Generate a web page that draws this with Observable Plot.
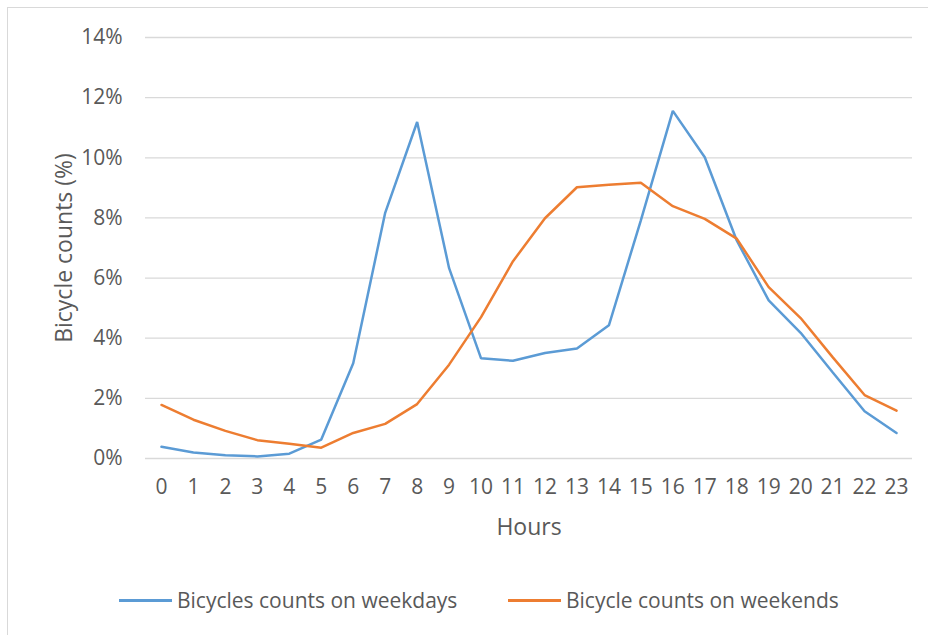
<!DOCTYPE html>
<html>
<head>
<meta charset="utf-8">
<script src="https://cdn.jsdelivr.net/npm/d3@7"></script>
<script src="https://cdn.jsdelivr.net/npm/@observablehq/plot@0.6"></script>
<style>
  html, body { margin: 0; padding: 0; background: #fff; overflow: hidden; }
  #wrap { position: relative; width: 928px; height: 635px; overflow: hidden; font-family: "Open Sans", sans-serif; color: #595959; }
  #frame { position: absolute; left: 7px; top: 7px; width: 960px; height: 660px; border: 1px solid #d9d9d9; box-sizing: border-box; }
  #chart { position: absolute; left: 0; top: 0; }
  .leg { position: absolute; top: 586px; height: 28px; display: flex; align-items: center; font-size: 21px; white-space: nowrap; }
  .leg .sw { width: 53px; height: 3px; margin-right: 5px; }
</style>
</head>
<body>
<div id="wrap">
  <div id="frame"></div>
  <div id="chart"></div>
  <div class="leg" style="left:119px"><span class="sw" style="background:#5B9BD5"></span><span>Bicycles counts on weekdays</span></div>
  <div class="leg" style="left:508px"><span class="sw" style="background:#ED7D31"></span><span>Bicycle counts on weekends</span></div>
</div>
<script>
const hours = [0, 1, 2, 3, 4, 5, 6, 7, 8, 9, 10, 11, 12, 13, 14, 15, 16, 17, 18, 19, 20, 21, 22, 23];
const weekdays = [0.39, 0.20, 0.11, 0.07, 0.16, 0.63, 3.17, 8.17, 11.19, 6.33, 3.33, 3.25, 3.51, 3.66, 4.43, 7.92, 11.56, 10.02, 7.25, 5.26, 4.18, 2.87, 1.57, 0.85];
const weekends = [1.78, 1.29, 0.92, 0.61, 0.49, 0.36, 0.85, 1.15, 1.81, 3.12, 4.70, 6.56, 7.99, 9.02, 9.10, 9.17, 8.39, 7.97, 7.31, 5.70, 4.67, 3.37, 2.11, 1.59];
const yTicks = [0, 2, 4, 6, 8, 10, 12, 14];
const seriesNames = ["Bicycles counts on weekdays", "Bicycle counts on weekends"];
const seriesColors = ["#5B9BD5", "#ED7D31"];
const xTitle = "Hours";
const yTitle = "Bicycle counts (%)";

const rows = [];
hours.forEach((h, i) => {
  rows.push({hour: h, value: weekdays[i], series: seriesNames[0]});
});
hours.forEach((h, i) => {
  rows.push({hour: h, value: weekends[i], series: seriesNames[1]});
});

const chart = Plot.plot({
  width: 928,
  height: 560,
  marginLeft: 145,
  marginRight: 16,
  marginTop: 37,
  marginBottom: 102,
  style: {fontFamily: "Open Sans, sans-serif", fontSize: "21px", color: "#595959", background: "transparent"},
  x: {type: "linear", domain: [-0.5, 23.5], label: null},
  y: {domain: [0, 14], label: null},
  color: {domain: seriesNames, range: seriesColors},
  marks: [
    Plot.gridY(yTicks, {stroke: "#d9d9d9", strokeOpacity: 1, strokeWidth: 1.3}),
    Plot.axisY(yTicks, {tickSize: 0, tickPadding: 23, fontSize: 21, tickFormat: d => d + "%", fill: "#595959", label: null}),
    Plot.axisX(hours, {tickSize: 0, tickPadding: 21, fontSize: 21, tickFormat: d => String(d), fill: "#595959", label: null}),
    Plot.text([yTitle], {text: d => d, frameAnchor: "left", dx: -81, rotate: -90, fontSize: 23, fill: "#595959", textAnchor: "middle", lineAnchor: "middle"}),
    Plot.text([xTitle], {text: d => d, frameAnchor: "bottom", dy: 69, fontSize: 23, fill: "#595959", textAnchor: "middle", lineAnchor: "middle"}),
    Plot.line(rows, {x: "hour", y: "value", z: "series", stroke: "series", strokeWidth: 2.5, strokeLinejoin: "miter"})
  ]
});
document.getElementById("chart").appendChild(chart);
</script>
</body>
</html>
